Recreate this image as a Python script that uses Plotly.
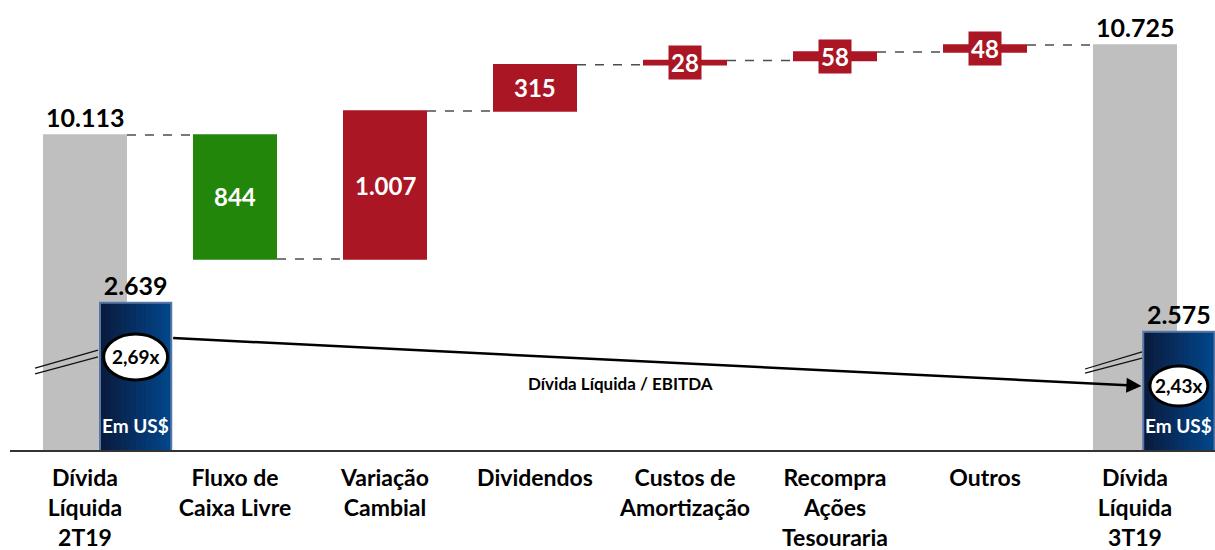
import plotly.graph_objects as go

# ---------------- data ----------------
categories = ["Dívida<br>Líquida<br>2T19", "Fluxo de<br>Caixa Livre", "Variação<br>Cambial",
              "Dividendos", "Custos de<br>Amortização", "Recompra<br>Ações<br>Tesouraria",
              "Outros", "Dívida<br>Líquida<br>3T19"]
measures = ["absolute", "relative", "relative", "relative", "relative", "relative", "relative", "total"]
values = [10113, -844, 1007, 315, 28, 58, 48, 10725]

usd_positions = [0, 7]
usd_values = [2639, 2575]
ratio_values = [2.69, 2.43]
ratio_labels = ["2,69x", "2,43x"]
ratio_title = "Dívida Líquida / EBITDA"
usd_label = "Em US$"

# ---------------- style ----------------
FONT = "Lato"
GREY = "#BFBFBF"
RED = "#AA1624"
GREEN = "#22860A"
NAVY_L = (10, 27, 62)
NAVY_R = (2, 70, 138)
BORDER = "#5877A6"

W_BAR = 0.56
usd_offsets = [0.10, 0.055]
usd_width = 0.475
Y1_RANGE = [7970, 11031]
Y2_RANGE = [2314, 3307]
Y3_RANGE = [1.856, 5.890]


def fmt(v):
    return f"{v:,.0f}".replace(",", ".")


x = list(range(len(categories)))
fig = go.Figure()

fig.add_trace(go.Waterfall(
    x=x, y=values, measure=measures,
    width=W_BAR, offset=-W_BAR / 2,
    increasing=dict(marker=dict(color=RED, line=dict(width=0))),
    decreasing=dict(marker=dict(color=GREEN, line=dict(width=0))),
    totals=dict(marker=dict(color=GREY, line=dict(width=0))),
    connector=dict(line=dict(color="#4d4d4d", width=1.5, dash="dash")),
    textposition="none", hoverinfo="skip", showlegend=False,
))

# cumulative levels for labels
annotations = []
running = 0
for i, (m, v) in enumerate(zip(measures, values)):
    if m == "absolute":
        start, end = 0, v
    elif m == "relative":
        start, end = running, running + v
    else:
        start, end = 0, running
    running = end
    if m == "relative":
        annotations.append(dict(
            x=i, y=(start + end) / 2, xref="x", yref="y",
            text=f"<b>{fmt(abs(v))}</b>", showarrow=False,
            font=dict(family=FONT, size=24, color="white"),
            bgcolor=RED if v > 0 else GREEN, borderpad=2,
        ))
    else:
        annotations.append(dict(
            x=i, y=end, xref="x", yref="y", yanchor="bottom", yshift=1,
            text=f"<b>{fmt(end)}</b>", showarrow=False,
            font=dict(family=FONT, size=25, color="black"),
        ))

# blue US$ bars with a horizontal gradient built from thin slices
N = 14
for j in range(N):
    t = j / (N - 1)
    col = "rgb({},{},{})".format(*[round(a + (b - a) * t) for a, b in zip(NAVY_L, NAVY_R)])
    fig.add_trace(go.Bar(
        x=usd_positions, y=usd_values, yaxis="y2",
        offset=[o + j * usd_width / N for o in usd_offsets],
        width=usd_width / N * 1.4 if j < N - 1 else usd_width / N,
        marker=dict(color=col, line=dict(width=0)),
        hoverinfo="skip", showlegend=False,
    ))
fig.add_trace(go.Bar(
    x=usd_positions, y=usd_values, yaxis="y2",
    offset=usd_offsets, width=usd_width,
    marker=dict(color="rgba(0,0,0,0)", line=dict(color=BORDER, width=2)),
    text=[f"<b>{fmt(v)}</b>" for v in usd_values], textposition="outside",
    textfont=dict(family=FONT, size=25, color="black"), cliponaxis=False,
    hoverinfo="skip", showlegend=False,
))

usd_centers = [p + o + usd_width / 2 for p, o in zip(usd_positions, usd_offsets)]

# invisible anchor trace for the ratio axis
fig.add_trace(go.Scatter(x=usd_centers, y=ratio_values, yaxis="y3", mode="markers",
                         marker=dict(size=1, opacity=0), hoverinfo="skip", showlegend=False))

shapes = []
ell_sizes = [(32, 23), (29, 20)]
for cx, r, (hx, hy) in zip(usd_centers, ratio_values, ell_sizes):
    shapes.append(dict(type="circle", xref="x", yref="y3", xsizemode="pixel", ysizemode="pixel",
                       xanchor=cx, yanchor=r, x0=-hx, x1=hx, y0=-hy, y1=hy,
                       fillcolor="white", line=dict(color="black", width=3), layer="above"))
for cx, r, lab in zip(usd_centers, ratio_values, ratio_labels):
    annotations.append(dict(x=cx, y=r, xref="x", yref="y3", text=f"<b>{lab}</b>",
                            showarrow=False, font=dict(family=FONT, size=19, color="black")))
    annotations.append(dict(x=cx, y=1 - 425 / 450, xref="x", yref="paper", yanchor="middle",
                            text=f"<b>{usd_label}</b>",
                            showarrow=False, font=dict(family=FONT, size=19, color="white")))

# arrow between the ratios
annotations.append(dict(x=usd_centers[1] - 0.25, y=ratio_values[1], xref="x", yref="y3",
                        ax=usd_centers[0] + 0.24, ay=ratio_values[0] + 0.17, axref="x", ayref="y3",
                        text="", showarrow=True, arrowhead=2, arrowsize=1.2, arrowwidth=2.5,
                        arrowcolor="black", standoff=0, startstandoff=0))
annotations.append(dict(x=3.57, y=1 - 383 / 450, xref="x", yref="paper", yanchor="middle",
                        text=f"<b>{ratio_title}</b>",
                        showarrow=False, font=dict(family=FONT, size=17, color="black")))

# axis-break marks: two thin parallel lines at each break
for p, (xa, xb), (ya1, ya2, yb1, yb2) in [
    (usd_positions[0], (-0.333, 0.087), (0.182, 0.169, 0.222, 0.207)),
    (usd_positions[1], (-0.333, 0.047), (0.180, 0.171, 0.218, 0.204)),
]:
    for ya, yb in [(ya1, yb1), (ya2, yb2)]:
        shapes.append(dict(type="line", xref="x", yref="paper", x0=p + xa, x1=p + xb, y0=ya, y1=yb,
                           line=dict(color="#111111", width=1.3), layer="above"))

fig.update_layout(
    width=1215, height=550,
    margin=dict(l=10, r=0, t=0, b=100),
    paper_bgcolor="white", plot_bgcolor="white",
    barmode="overlay", waterfallmode="overlay",
    separators=",.",
    xaxis=dict(range=[-0.5, 7.5 + 5 / 150], tickvals=x,
               ticktext=[f"<b>{c}</b>" for c in categories],
               tickfont=dict(family=FONT, size=23, color="black"),
               ticklabelstandoff=7,
               showline=True, linecolor="#333333", linewidth=1.5,
               showgrid=False, zeroline=False, ticks="", fixedrange=True),
    yaxis=dict(range=Y1_RANGE, visible=False, showgrid=False, zeroline=False),
    yaxis2=dict(range=Y2_RANGE, overlaying="y", visible=False, showgrid=False, zeroline=False),
    yaxis3=dict(range=Y3_RANGE, overlaying="y", visible=False, showgrid=False, zeroline=False),
    shapes=shapes, annotations=annotations,
    font=dict(family=FONT),
)

fig.write_html("out.html", post_script="document.body.style.margin='0px';",
               config={"displayModeBar": False})
